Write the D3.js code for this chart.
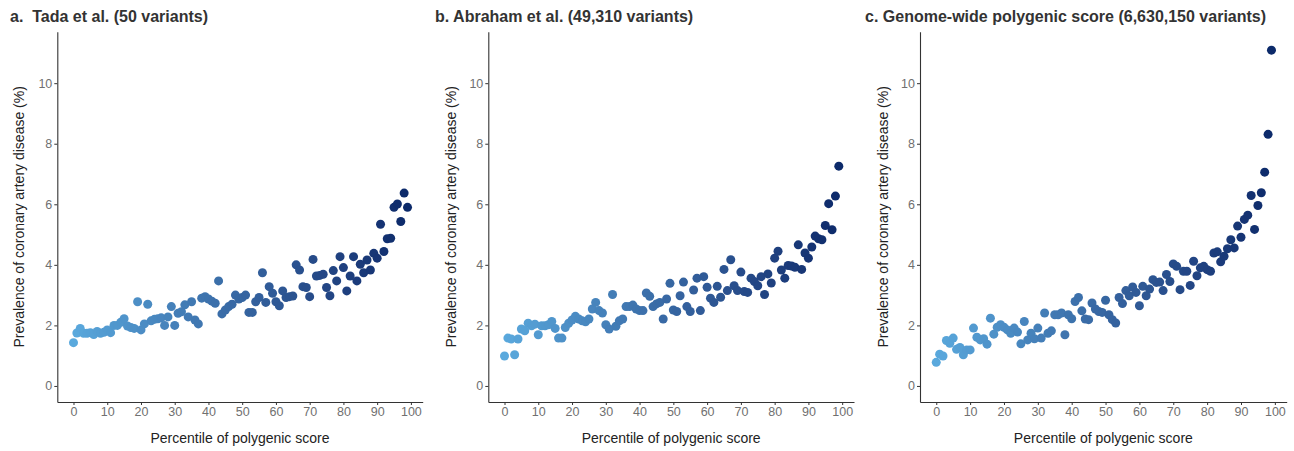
<!DOCTYPE html>
<html>
<head>
<meta charset="utf-8">
<script src="https://cdn.jsdelivr.net/npm/d3@7"></script>
<style>
  html, body { margin: 0; padding: 0; background: #fff; }
  svg { display: block; font-family: "Liberation Sans", Arial, Helvetica, sans-serif; }
</style>
</head>
<body>
<svg id="chart" width="1294" height="451"></svg>
<script>
// Percentile of polygenic score (0..99)
const percentiles = d3.range(0, 100);

// Panel a: Tada et al. (50 variants)
const tadaValues = [
  1.43, 1.75, 1.90, 1.74, 1.74, 1.76, 1.70, 1.80, 1.74, 1.77,
  1.85, 1.76, 2.00, 2.00, 2.10, 2.22, 1.98, 1.93, 1.90, 2.78,
  1.85, 2.05, 2.70, 2.15, 2.20, 2.22, 2.25, 2.00, 2.28, 2.62,
  2.00, 2.40, 2.45, 2.68, 2.28, 2.78, 2.18, 2.05, 2.90, 2.95,
  2.87, 2.80, 2.73, 3.47, 2.38, 2.51, 2.62, 2.70, 3.00, 2.87,
  2.92, 3.00, 2.43, 2.43, 2.78, 2.92, 3.74, 2.76, 3.28, 3.06,
  2.78, 2.65, 3.14, 2.92, 2.95, 2.97, 4.00, 3.83, 3.28, 3.25,
  2.95, 4.18, 3.63, 3.65, 3.69, 3.25, 2.98, 3.81, 3.47, 4.27,
  3.91, 3.14, 3.63, 4.27, 3.47, 4.02, 3.74, 4.16, 3.83, 4.38,
  4.22, 5.34, 4.44, 4.86, 4.88, 5.90, 6.01, 5.43, 6.37, 5.90
];

// Panel b: Abraham et al. (49,310 variants)
const abrahamValues = [
  0.99, 1.58, 1.55, 1.03, 1.55, 1.88, 1.82, 2.07, 1.99, 2.04,
  1.69, 1.99, 1.99, 2.02, 2.13, 1.90, 1.58, 1.58, 1.93, 2.07,
  2.18, 2.30, 2.21, 2.15, 2.12, 2.21, 2.54, 2.76, 2.49, 2.41,
  2.02, 1.88, 3.02, 1.97, 2.15, 2.21, 2.62, 2.62, 2.67, 2.54,
  2.49, 2.49, 3.07, 2.96, 2.62, 2.71, 2.76, 2.21, 2.87, 3.39,
  2.51, 2.46, 2.98, 3.43, 2.62, 2.46, 3.17, 3.56, 2.49, 3.61,
  3.26, 2.90, 2.76, 3.29, 2.93, 3.85, 3.15, 4.17, 3.31, 3.15,
  3.76, 3.12, 3.09, 3.56, 3.45, 3.31, 3.61, 3.02, 3.70, 3.40,
  4.22, 4.45, 3.83, 3.56, 3.98, 3.96, 3.92, 4.66, 3.85, 4.39,
  4.22, 4.59, 4.95, 4.86, 4.83, 5.30, 6.02, 5.16, 6.27, 7.26
];

// Panel c: Genome-wide polygenic score (6,630,150 variants)
const genomeWideValues = [
  0.78, 1.05, 0.99, 1.50, 1.41, 1.58, 1.21, 1.27, 1.03, 1.19,
  1.19, 1.91, 1.61, 1.52, 1.56, 1.38, 2.24, 1.71, 1.94, 2.02,
  1.94, 1.85, 1.74, 1.91, 1.78, 1.39, 2.13, 1.52, 1.74, 1.56,
  1.91, 1.58, 2.41, 1.74, 1.82, 2.35, 2.35, 2.41, 1.69, 2.35,
  2.22, 2.79, 2.92, 2.48, 2.21, 2.19, 2.74, 2.54, 2.46, 2.43,
  2.83, 2.35, 2.19, 2.08, 2.92, 2.72, 3.15, 2.98, 3.27, 3.09,
  2.65, 3.29, 2.98, 3.20, 3.51, 3.42, 3.43, 3.15, 3.68, 3.45,
  4.03, 3.95, 3.18, 3.79, 3.79, 3.32, 4.12, 3.64, 3.90, 3.95,
  3.84, 3.79, 4.39, 4.43, 4.10, 4.28, 4.53, 4.83, 4.56, 5.28,
  4.91, 5.50, 5.64, 6.29, 5.17, 5.96, 6.38, 7.06, 8.31, 11.09
];

const panelTitles = [
  "a.  Tada et al. (50 variants)",
  "b. Abraham et al. (49,310 variants)",
  "c. Genome-wide polygenic score (6,630,150 variants)"
];
const xTicks = [0, 10, 20, 30, 40, 50, 60, 70, 80, 90, 100];
const yTicks = [0, 2, 4, 6, 8, 10];
const xAxisTitle = "Percentile of polygenic score";
const yAxisTitle = "Prevalence of coronary artery disease (%)";

const seriesList = [tadaValues, abrahamValues, genomeWideValues];

// Layout (pixel geometry of each panel)
const panels = [
  { left: 57.3, right: 422.7, titleX: 10, yTitleX: 19 },
  { left: 488.3, right: 854, titleX: 435, yTitleX: 450.5 },
  { left: 920, right: 1286.7, titleX: 865, yTitleX: 882.5 }
];
const plotTop = 31.7, plotBottom = 402;

const svg = d3.select("#chart");
const color = d3.scaleLinear()
  .domain([0, 99])
  .range(["#5aa9dd", "#0c2a6a"])
  .interpolate(d3.interpolateLab);

const yScale = d3.scaleLinear().domain([-0.53, 11.7]).range([plotBottom, plotTop]);

panels.forEach((p, i) => {
  const g = svg.append("g");
  const xScale = d3.scaleLinear().domain([-4.8, 103.5]).range([p.left, p.right]);
  const values = seriesList[i];

  const xAxis = g.append("g")
    .attr("transform", `translate(0,${plotBottom})`)
    .call(d3.axisBottom(xScale).tickValues(xTicks).tickSize(3).tickSizeOuter(0).tickPadding(2));
  const yAxis = g.append("g")
    .attr("transform", `translate(${p.left},0)`)
    .call(d3.axisLeft(yScale).tickValues(yTicks).tickSize(3).tickSizeOuter(0).tickPadding(2));

  [xAxis, yAxis].forEach(ax => {
    ax.select(".domain").attr("stroke", "#333").attr("stroke-width", 1.1);
    ax.selectAll(".tick line").attr("stroke", "#333").attr("stroke-width", 1);
    ax.selectAll(".tick text")
      .attr("fill", "#707070")
      .style("font-size", "12.5px")
      .style("font-family", "'Liberation Sans', Arial, sans-serif");
  });

  g.append("g").selectAll("circle")
    .data(percentiles.map((pc, j) => ({ x: pc, y: values[j] })))
    .join("circle")
    .attr("cx", d => xScale(d.x))
    .attr("cy", d => yScale(d.y))
    .attr("r", 4.5)
    .attr("fill", d => color(d.x));

  g.append("text")
    .attr("x", p.titleX)
    .attr("y", 22)
    .attr("fill", "#333")
    .style("font-weight", "bold")
    .style("font-size", "16px")
    .style("white-space", "pre")
    .text(panelTitles[i]);

  g.append("text")
    .attr("x", (p.left + p.right) / 2)
    .attr("y", 443)
    .attr("text-anchor", "middle")
    .attr("fill", "#222")
    .style("font-size", "14px")
    .text(xAxisTitle);

  g.append("text")
    .attr("transform", `translate(${p.yTitleX + 5},${(plotTop + plotBottom) / 2}) rotate(-90)`)
    .attr("text-anchor", "middle")
    .attr("fill", "#222")
    .style("font-size", "14px")
    .text(yAxisTitle);
});
</script>
</body>
</html>
